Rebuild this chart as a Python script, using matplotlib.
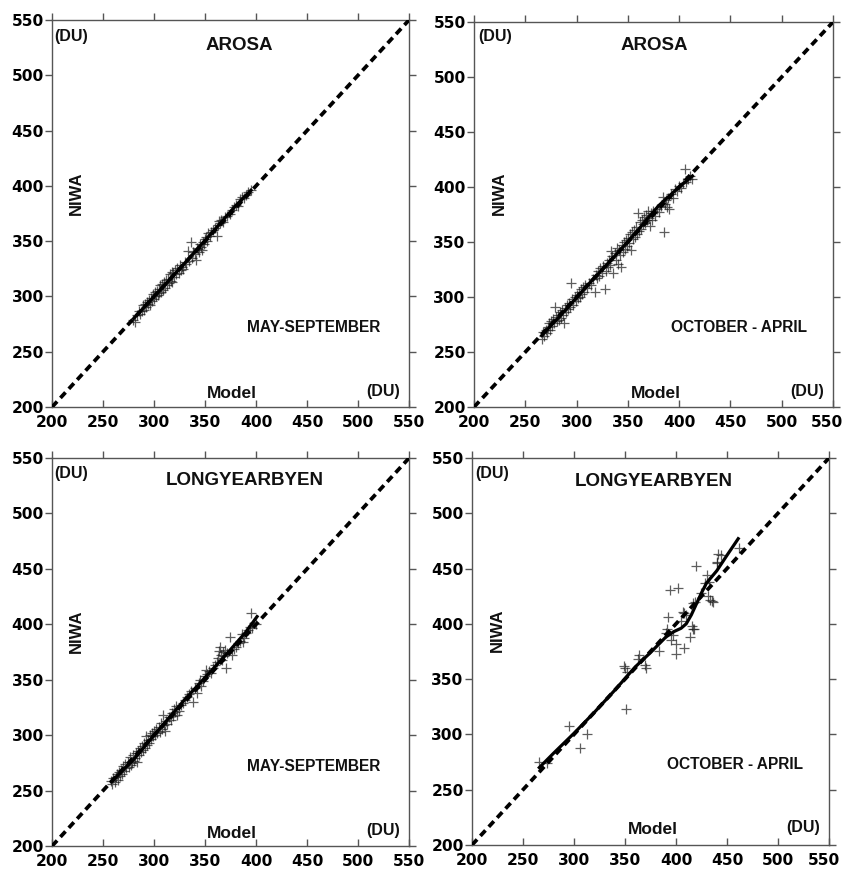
import matplotlib
matplotlib.use("Agg")
import matplotlib.pyplot as plt
import matplotlib.transforms as mtransforms
import numpy as np

# ---------------- data (total ozone, DU) ----------------
ticks = [200, 250, 300, 350, 400, 450, 500, 550]

# Arosa, May-September
arosa_ms_model = [279, 281, 283, 285, 286, 288, 289, 290, 291, 292, 293, 294, 295, 296, 297, 298,
                  299, 300, 301, 302, 303, 304, 305, 305, 306, 307, 308, 309, 310, 311, 312, 313,
                  314, 315, 316, 317, 318, 318, 319, 320, 321, 322, 323, 324, 325, 326, 327, 328,
                  330, 331, 333, 334, 336, 337, 338, 340, 341, 342, 343, 344, 345, 346, 347, 348,
                  349, 350, 351, 352, 353, 355, 356, 358, 360, 362, 363, 364, 365, 366, 368, 370,
                  372, 374, 376, 378, 380, 382, 384, 386, 388, 390, 392, 395]
arosa_ms_niwa = [279, 277, 283, 287, 284, 287, 292, 288, 293, 290, 295, 293, 297, 292, 299, 296,
                 302, 298, 304, 300, 305, 301, 307, 303, 310, 304, 311, 306, 313, 308, 315, 310,
                 316, 312, 320, 314, 322, 313, 321, 318, 324, 320, 326, 321, 328, 324, 327, 325,
                 331, 329, 341, 332, 349, 335, 340, 338, 333, 344, 343, 340, 347, 345, 342, 349,
                 347, 352, 354, 350, 357, 355, 358, 360, 362, 355, 365, 368, 366, 369, 367, 372,
                 373, 375, 378, 381, 383, 382, 388, 390, 389, 392, 394, 396]
arosa_ms_fit_model = [280, 300, 330, 360, 380, 395]
arosa_ms_fit_niwa = [280, 300, 330, 361, 382, 396]

# Arosa, October-April
arosa_oa_model = [266, 267, 268, 270, 271, 272, 273, 274, 275, 276, 277, 278, 279, 280, 281, 282,
                  283, 284, 285, 286, 287, 288, 289, 290, 291, 292, 293, 294, 295, 296, 297, 298,
                  299, 300, 301, 302, 303, 304, 305, 306, 307, 308, 310, 312, 314, 316, 318, 319,
                  320, 321, 322, 323, 325, 326, 328, 329, 330, 331, 332, 333, 334, 335, 336, 337,
                  338, 339, 340, 341, 342, 343, 344, 345, 346, 347, 348, 349, 350, 351, 352, 353,
                  354, 355, 356, 357, 358, 359, 360, 361, 362, 363, 364, 365, 366, 367, 368, 369,
                  370, 371, 372, 373, 374, 375, 376, 378, 380, 382, 384, 385, 386, 387, 388, 389,
                  390, 392, 394, 396, 398, 400, 402, 404, 406, 407, 409, 411, 413]
arosa_oa_niwa = [262, 268, 265, 270, 267, 273, 276, 270, 278, 274, 280, 276, 291, 282, 278, 284,
                 279, 286, 281, 288, 284, 276, 290, 286, 293, 289, 295, 291, 313, 298, 293, 300,
                 296, 302, 299, 305, 300, 307, 303, 309, 305, 311, 308, 313, 311, 316, 305, 320,
                 317, 324, 319, 326, 322, 328, 307, 324, 331, 327, 334, 329, 342, 337, 322, 340,
                 334, 345, 330, 343, 338, 327, 347, 341, 350, 344, 352, 346, 354, 349, 357, 343,
                 359, 353, 361, 355, 364, 357, 376, 360, 368, 362, 370, 366, 373, 367, 375, 370,
                 378, 372, 365, 376, 370, 378, 374, 380, 377, 383, 391, 359, 385, 388, 382, 390,
                 380, 394, 390, 398, 396, 401, 399, 404, 416, 405, 407, 410, 407]
arosa_oa_fit_model = [266, 290, 310, 340, 360, 380, 400, 413]
arosa_oa_fit_niwa = [265, 289, 310, 340, 361, 383, 400, 410]

# Longyearbyen, May-September
lyb_ms_model = [258, 259, 260, 262, 263, 264, 265, 266, 267, 268, 269, 270, 271, 272, 273, 274,
                275, 276, 277, 278, 279, 280, 281, 282, 283, 284, 285, 286, 287, 288, 289, 290,
                291, 292, 293, 294, 295, 296, 297, 298, 299, 300, 301, 302, 303, 305, 306, 307,
                308, 309, 310, 311, 312, 313, 315, 317, 318, 319, 320, 321, 322, 323, 324, 326,
                328, 330, 332, 334, 336, 338, 340, 342, 344, 345, 346, 348, 350, 351, 352, 354,
                356, 358, 360, 362, 363, 364, 365, 366, 367, 368, 369, 370, 371, 372, 374, 376,
                378, 380, 382, 384, 386, 387, 388, 390, 392, 394, 395, 396, 398, 400]
lyb_ms_niwa = [259, 256, 261, 258, 262, 265, 260, 267, 263, 269, 265, 272, 268, 274, 270, 276,
               271, 280, 273, 275, 282, 277, 279, 284, 276, 286, 282, 288, 285, 290, 287, 293,
               288, 299, 291, 296, 293, 300, 297, 302, 299, 304, 300, 306, 302, 307, 303, 311,
               306, 318, 309, 304, 313, 310, 316, 314, 320, 317, 324, 321, 326, 318, 322, 327,
               329, 332, 334, 337, 340, 330, 343, 338, 347, 350, 344, 349, 353, 359, 355, 358,
               356, 361, 363, 366, 370, 376, 380, 372, 368, 375, 371, 377, 361, 374, 389, 372,
               378, 380, 383, 385, 391, 384, 388, 392, 395, 398, 410, 397, 401, 400]
lyb_ms_fit_model = [258, 280, 300, 330, 350, 370, 390, 401]
lyb_ms_fit_niwa = [258, 278, 300, 332, 352, 372, 393, 407]

# Longyearbyen, October-April
lyb_oa_model = [266, 274, 295, 306, 313, 351, 349, 350, 352, 363, 364, 370, 371, 383, 390, 391,
                392, 394, 395, 397, 400, 400, 402, 405, 407, 408, 408, 410, 414, 416, 417, 418,
                417, 419, 420, 425, 428, 430, 431, 432, 433, 435, 436, 440, 440, 441, 444, 462]
lyb_oa_niwa = [275, 274, 308, 288, 300, 323, 362, 360, 356, 368, 372, 363, 360, 375, 392, 395,
               406, 431, 385, 390, 382, 373, 432, 403, 411, 378, 410, 408, 388, 398, 395, 395,
               419, 420, 452, 428, 437, 444, 425, 438, 422, 421, 420, 455, 456, 463, 462, 469]
lyb_oa_fit_model = [266, 280, 300, 320, 340, 360, 375, 390, 398, 405, 410, 415, 420, 425, 430,
                    440, 450, 461]
lyb_oa_fit_niwa = [270, 283, 301, 320, 340, 361, 374, 388, 393, 396, 400, 408, 418, 428, 437,
                   448, 462, 477]

panels = [
    dict(rect=[0.0615, 0.5359, 0.422, 0.4413], station="AROSA", season="MAY-SEPTEMBER",
         model=arosa_ms_model, niwa=arosa_ms_niwa,
         fit_m=arosa_ms_fit_model, fit_n=arosa_ms_fit_niwa,
         pos=dict(du1=(0.005, 0.957), st=(0.524, 0.935), niwa=(0.069, 0.552),
                  season=(0.733, 0.205), model=(0.504, 0.035), du2=(0.927, 0.04))),
    dict(rect=[0.5603, 0.5359, 0.4243, 0.439], station="AROSA", season="OCTOBER - APRIL",
         model=arosa_oa_model, niwa=arosa_oa_niwa,
         fit_m=arosa_oa_fit_model, fit_n=arosa_oa_fit_niwa,
         pos=dict(du1=(0.012, 0.962), st=(0.503, 0.94), niwa=(0.072, 0.555),
                  season=(0.737, 0.206), model=(0.507, 0.035), du2=(0.928, 0.04))),
    dict(rect=[0.0615, 0.0353, 0.422, 0.4424], station="LONGYEARBYEN", season="MAY-SEPTEMBER",
         model=lyb_ms_model, niwa=lyb_ms_niwa,
         fit_m=lyb_ms_fit_model, fit_n=lyb_ms_fit_niwa,
         pos=dict(du1=(0.005, 0.959), st=(0.539, 0.942), niwa=(0.069, 0.553),
                  season=(0.733, 0.205), model=(0.504, 0.032), du2=(0.927, 0.041))),
    dict(rect=[0.5579, 0.0365, 0.422, 0.4413], station="LONGYEARBYEN", season="OCTOBER - APRIL",
         model=lyb_oa_model, niwa=lyb_oa_niwa,
         fit_m=lyb_oa_fit_model, fit_n=lyb_oa_fit_niwa,
         pos=dict(du1=(0.01, 0.96), st=(0.51, 0.939), niwa=(0.071, 0.556),
                  season=(0.738, 0.207), model=(0.508, 0.039), du2=(0.928, 0.045))),
]

TXT = "Liberation Sans"
TICKFONT = "DejaVu Sans"
FRAME = "#555555"

fig = plt.figure(figsize=(8.46, 8.77), dpi=100)

for p in panels:
    ax = fig.add_axes(p["rect"])
    ax.set_xlim(200, 550)
    ax.set_ylim(200, 550)
    ax.set_xticks(ticks)
    ax.set_yticks(ticks)
    for s in ax.spines.values():
        s.set_color(FRAME)
        s.set_linewidth(1.0)
    # left / right / top ticks point outward, bottom ticks point inward
    ax.tick_params(axis="y", which="both", direction="out", length=5, width=1,
                   color=FRAME, left=True, right=True, pad=1)
    ax.tick_params(axis="x", which="both", direction="in", length=5, width=1,
                   color=FRAME, bottom=True, top=False, pad=6)
    sec = ax.secondary_xaxis("top")
    sec.set_xticks(ticks)
    sec.tick_params(direction="out", length=5, width=1, color=FRAME, labeltop=False)
    sec.spines["top"].set_visible(False)
    for lab in ax.get_xticklabels() + ax.get_yticklabels():
        lab.set_fontfamily(TICKFONT)
        lab.set_fontweight("bold")
        lab.set_fontsize(11.2)
    # nudge the last bottom label of the right-hand panels inside the canvas
    if p["rect"][0] > 0.5:
        last = ax.xaxis.get_major_ticks()[-1].label1
        last.set_transform(last.get_transform()
                           + mtransforms.ScaledTranslation(-4 / 72, 0, fig.dpi_scale_trans))

    # 1:1 reference line
    ax.plot([200, 550], [200, 550], color="black", lw=2.7, linestyle=(0, (2.0, 1.3)),
            solid_capstyle="butt", zorder=4)
    # observations
    ax.scatter(p["model"], p["niwa"], marker="+", s=60, linewidths=0.9,
               color="#1a1a1a", alpha=0.7, zorder=3)
    # smoothed fit
    ax.plot(p["fit_m"], p["fit_n"], color="black", lw=2.3, zorder=5)

    pos = p["pos"]
    kw = dict(transform=ax.transAxes, family=TXT, fontweight="bold", color="#111111")
    ax.text(*pos["du1"], "(DU)", ha="left", va="center", fontsize=11.5, **kw)
    ax.text(*pos["st"], p["station"], ha="center", va="center", fontsize=13.5, **kw)
    ax.text(*pos["niwa"], "NIWA", ha="center", va="center", rotation=90, fontsize=12, **kw)
    ax.text(*pos["season"], p["season"], ha="center", va="center", fontsize=11.2, **kw)
    ax.text(*pos["model"], "Model", ha="center", va="center", fontsize=12.5, **kw)
    ax.text(*pos["du2"], "(DU)", ha="center", va="center", fontsize=11.5, **kw)

fig.savefig("out.png", dpi=100)
